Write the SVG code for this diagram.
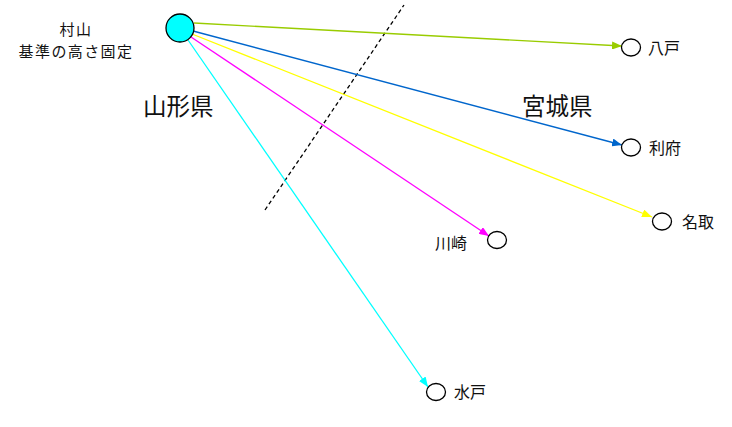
<svg xmlns="http://www.w3.org/2000/svg" width="732" height="427" viewBox="0 0 732 427">
<style>
text{font-family:"Noto Sans CJK JP","Liberation Sans",sans-serif;fill:#111}
.s{font-size:16px}
.t{font-size:15px;letter-spacing:1.4px}
.b{font-size:23.5px}
.n{fill:#fff;stroke:#000;stroke-width:1.3}
.c{fill:none;stroke-width:1.3}
</style>
<defs>
<marker id="mg" viewBox="0 0 10 8" refX="10" refY="4" markerWidth="10" markerHeight="8" markerUnits="userSpaceOnUse" orient="auto"><path d="M0,0L10,4L0,8z" fill="#99cc00"/></marker>
<marker id="mb" viewBox="0 0 10 8" refX="10" refY="4" markerWidth="10" markerHeight="8" markerUnits="userSpaceOnUse" orient="auto"><path d="M0,0L10,4L0,8z" fill="#0066cc"/></marker>
<marker id="my" viewBox="0 0 10 8" refX="10" refY="4" markerWidth="10" markerHeight="8" markerUnits="userSpaceOnUse" orient="auto"><path d="M0,0L10,4L0,8z" fill="#ffff00"/></marker>
<marker id="mm" viewBox="0 0 10 8" refX="10" refY="4" markerWidth="10" markerHeight="8" markerUnits="userSpaceOnUse" orient="auto"><path d="M0,0L10,4L0,8z" fill="#ff00ff"/></marker>
<marker id="mc" viewBox="0 0 10 8" refX="10" refY="4" markerWidth="10" markerHeight="8" markerUnits="userSpaceOnUse" orient="auto"><path d="M0,0L10,4L0,8z" fill="#00ffff"/></marker>
</defs>
<g id="border">
<line x1="265" y1="210" x2="404" y2="5" stroke="#000" stroke-width="1.3" stroke-dasharray="4,3"/>
</g>
<g id="connectors">
<line class="c" x1="194" y1="23" x2="622" y2="46" stroke="#99cc00" marker-end="url(#mg)"/>
<line class="c" x1="193" y1="31" x2="622" y2="145" stroke="#0066cc" marker-end="url(#mb)"/>
<line class="c" x1="192" y1="34" x2="652" y2="217" stroke="#ffff00" marker-end="url(#my)"/>
<line class="c" x1="191" y1="37" x2="489" y2="236" stroke="#ff00ff" marker-end="url(#mm)"/>
<line class="c" x1="188" y1="40" x2="428" y2="387" stroke="#00ffff" marker-end="url(#mc)"/>
</g>
<g id="murayama">
<circle cx="180" cy="28" r="14" fill="#00ffff" stroke="#000" stroke-width="1.3"/>
<text class="t" x="76" y="34.5" text-anchor="middle">村山</text>
<text class="t" x="76" y="56.5" text-anchor="middle">基準の高さ固定</text>
</g>
<g id="yamagata"><text class="b" x="143" y="115">山形県</text></g>
<g id="miyagi"><text class="b" x="522" y="115">宮城県</text></g>
<g id="hachinohe"><ellipse class="n" cx="631" cy="47.5" rx="9.5" ry="8.5"/><text class="s" x="648" y="54">八戸</text></g>
<g id="rifu"><ellipse class="n" cx="631" cy="147.5" rx="9.5" ry="8.5"/><text class="s" x="649" y="154">利府</text></g>
<g id="natori"><ellipse class="n" cx="662" cy="221.5" rx="9.5" ry="8.5"/><text class="s" x="682" y="228">名取</text></g>
<g id="kawasaki"><ellipse class="n" cx="497" cy="240" rx="9.5" ry="8.5"/><text class="s" x="435" y="249">川崎</text></g>
<g id="mito"><ellipse class="n" cx="436" cy="392" rx="9.5" ry="8.5"/><text class="s" x="454" y="398">水戸</text></g>
</svg>
